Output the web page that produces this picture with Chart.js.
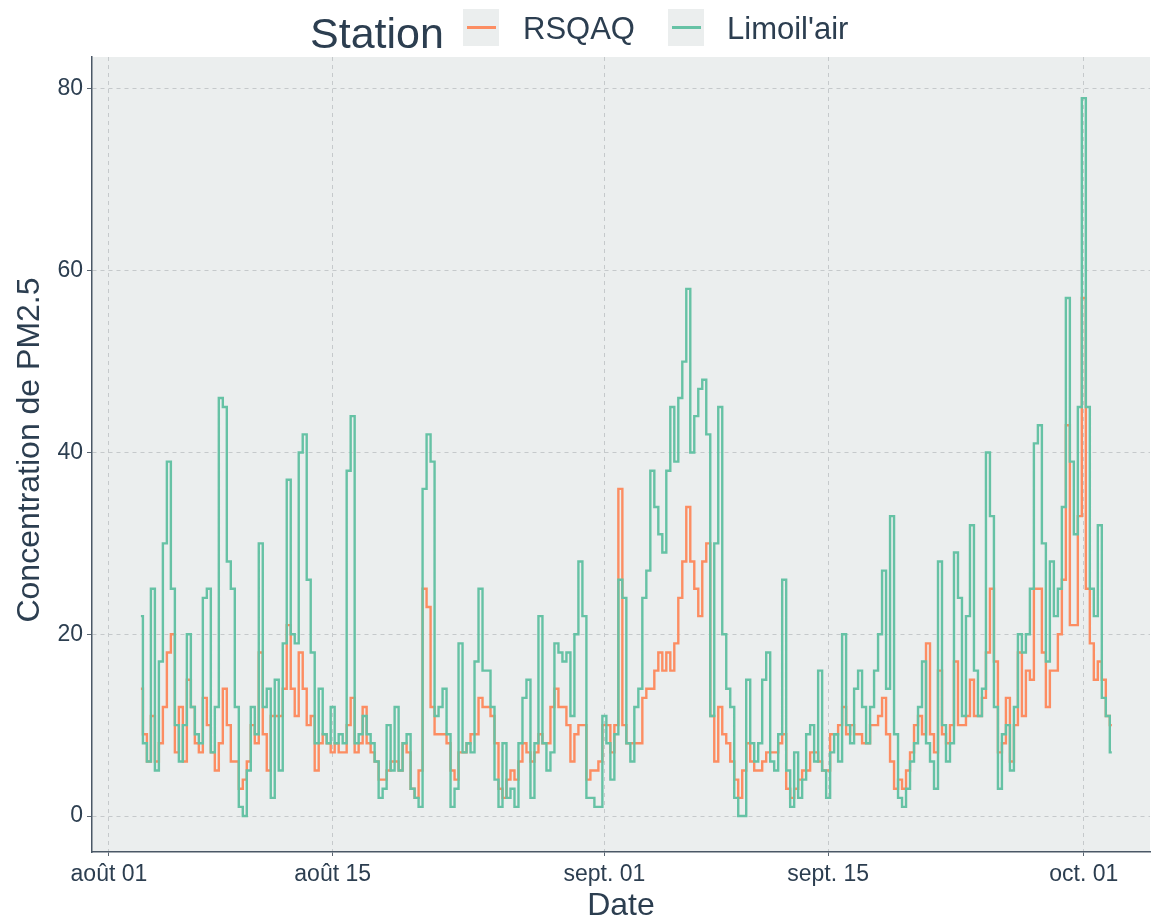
<!DOCTYPE html>
<html>
<head>
<meta charset="utf-8">
<script src="https://cdn.jsdelivr.net/npm/chart.js@4.4.1/dist/chart.umd.min.js"></script>
<style>
html, body { margin: 0; padding: 0; background: #fff; }
</style>
</head>
<body>
<canvas id="myChart" width="1152" height="920"></canvas>
<script>
// days counted from août 01 00h, one reading every 6 h
const startDay = 2;
const stepDays = 0.25;

const stations = ['RSQAQ', "Limoil'air"];

const rsqaq = [
  14, 9, 6, 11,   6, 8, 12, 18,   20, 7, 12, 6,   15, 12, 8, 7,
  13, 10, 7, 5,   8, 14, 10, 6,   6, 3, 4, 6,     10, 8, 18, 9,
  5, 11, 11, 11,  14, 21, 14, 11, 18, 14, 10, 11, 5, 8, 9, 8,
  7, 8, 7, 7,     10, 13, 7, 8,   12, 8, 7, 6,    4, 4, 5, 6,
  6, 5, 8, 7,     3, 2, 5, 25,    23, 12, 9, 9,   9, 8, 5, 4,
  7, 7, 8, 9,     9, 13, 12, 12,  11, 8, 3, 2,    4, 5, 4, 6,
  8, 7, 6, 7,     9, 8, 8, 12,    14, 12, 12, 10, 6, 9, 10, 10,
  4, 5, 5, 6,     10, 10, 7, 10,  36, 10, 8, 8,   8, 8, 13, 14,
  14, 16, 18, 16, 18, 16, 19, 24, 28, 34, 28, 25, 22, 28, 30, 11,
  6, 12, 9, 8,    6, 4, 2, 5,     8, 6, 5, 5,     6, 7, 7, 7,
  8, 9, 3, 2,     3, 4, 5, 5,     7, 7, 6, 5,     5, 9, 9, 10,
  12, 9, 10, 9,   9, 8, 8, 10,    10, 11, 13, 9,  6, 3, 4, 3,
  5, 7, 10, 11,   9, 19, 9, 7,    16, 9, 8, 10,   17, 10, 10, 11,
  15, 11, 11, 13, 18, 25, 17, 7,  8, 13, 6, 10,   18, 11, 16, 15,
  25, 25, 18, 12, 16, 16, 20, 26, 43, 21, 21, 33, 57, 25, 19, 15,
  17, 15, 11, 10
];

const limoilair = [
  22, 8, 6, 25,   5, 17, 30, 39,  25, 10, 6, 10,  20, 12, 9, 8,
  24, 25, 7, 12,  46, 45, 28, 25, 12, 1, 0, 5,    12, 9, 30, 12,
  14, 2, 15, 5,   19, 37, 20, 19, 40, 42, 26, 18, 8, 14, 9, 8,
  12, 8, 9, 8,    38, 44, 8, 9,   11, 9, 8, 6,    2, 3, 10, 5,
  12, 5, 8, 9,    3, 2, 1, 36,    42, 39, 11, 12, 14, 9, 1, 3,
  19, 7, 8, 7,    17, 25, 16, 16, 12, 4, 1, 8,    2, 3, 1, 8,
  13, 15, 2, 8,   22, 8, 5, 7,    19, 18, 17, 18, 11, 20, 28, 22,
  2, 2, 1, 1,     11, 8, 4, 9,    26, 24, 8, 6,   12, 14, 24, 27,
  38, 34, 31, 29, 38, 45, 39, 46, 50, 58, 40, 44, 47, 48, 42, 11,
  30, 45, 20, 14, 12, 2, 0, 0,    15, 8, 6, 8,    15, 18, 6, 5,
  9, 26, 5, 1,    7, 2, 4, 9,     10, 6, 16, 5,   2, 7, 9, 6,
  20, 10, 8, 14,  16, 12, 8, 12,  16, 20, 27, 14, 33, 9, 2, 1,
  3, 6, 8, 12,    17, 8, 6, 3,    28, 10, 6, 8,   29, 24, 11, 22,
  32, 16, 11, 14, 40, 33, 12, 3,  9, 10, 5, 12,   20, 18, 20, 25,
  41, 43, 30, 17, 28, 22, 25, 34, 57, 39, 31, 45, 79, 45, 25, 22,
  32, 13, 11, 7
];

const tickDays = [0, 14, 31, 45, 61];
const tickLabels = ['août 01', 'août 15', 'sept. 01', 'sept. 15', 'oct. 01'];
const yTicks = [0, 20, 40, 60, 80];

const colors = ['#FC8D62', '#66C2A5'];
const panelBg = '#EBEEEE';
const textColor = '#2C3E50';
const font = '"Liberation Sans", Arial, sans-serif';

const toPoints = arr => arr.map((v, i) => ({ x: startDay + i * stepDays, y: v }));

const ggPanel = {
  id: 'ggPanel',
  beforeDraw(chart) {
    const { ctx, chartArea: a } = chart;
    ctx.save();
    ctx.fillStyle = panelBg;
    ctx.fillRect(a.left, a.top, a.right - a.left, a.bottom - a.top);
    ctx.restore();
  },
  afterDraw(chart) {
    const { ctx, chartArea: a } = chart;
    ctx.save();
    ctx.fillStyle = textColor;
    ctx.textAlign = 'left';
    ctx.textBaseline = 'alphabetic';
    ctx.font = '43px ' + font;
    ctx.fillText('Station', 310, 48);

    const keyX = [463, 668];
    const labelX = [523, 727];
    stations.forEach((name, i) => {
      ctx.fillStyle = panelBg;
      ctx.fillRect(keyX[i], 9, 36, 37);
      ctx.strokeStyle = colors[i];
      ctx.lineWidth = 3;
      ctx.beginPath();
      ctx.moveTo(keyX[i] + 4, 27.5);
      ctx.lineTo(keyX[i] + 33, 27.5);
      ctx.stroke();
      ctx.fillStyle = textColor;
      ctx.font = '31px ' + font;
      ctx.fillText(name, labelX[i], 39);
    });

    // axis titles
    ctx.font = '32px ' + font;
    ctx.textAlign = 'center';
    ctx.textBaseline = 'middle';
    ctx.fillText('Date', (a.left + a.right) / 2, 906);
    ctx.translate(30, 450);
    ctx.rotate(-Math.PI / 2);
    ctx.fillText('Concentration de PM2.5', 0, 0);
    ctx.restore();
  }
};

const ctx = document.getElementById('myChart').getContext('2d');
const myChart = new Chart(ctx, {
  type: 'line',
  data: {
    datasets: [
      {
        label: stations[1],
        data: toPoints(limoilair),
        borderColor: colors[1],
        order: 0
      },
      {
        label: stations[0],
        data: toPoints(rsqaq),
        borderColor: colors[0],
        order: 1
      }
    ]
  },
  options: {
    responsive: false,
    animation: false,
    layout: { padding: { top: 57, right: 2, left: 0, bottom: 0 } },
    elements: {
      point: { radius: 0 },
      line: { borderWidth: 2.4, tension: 0, stepped: 'middle' }
    },
    plugins: {
      legend: { display: false },
      tooltip: { enabled: false }
    },
    scales: {
      x: {
        type: 'linear',
        min: -1.06,
        max: 65.14,
        afterBuildTicks: s => { s.ticks = tickDays.map(v => ({ value: v })); },
        afterFit: s => { s.height = 68; },
        ticks: {
          callback: v => tickLabels[tickDays.indexOf(v)],
          color: textColor,
          font: { family: font, size: 23 },
          padding: 5,
          maxRotation: 0,
          autoSkip: false
        },
        grid: { color: '#C5C9CB', lineWidth: 1, tickLength: 4, tickColor: '#5A6570' },
        border: { display: true, color: '#4A5866', width: 1.5, dash: [4, 4] }
      },
      y: {
        min: -3.96,
        max: 83.52,
        afterBuildTicks: s => { s.ticks = yTicks.map(v => ({ value: v })); },
        afterFit: s => { s.width = 92; },
        ticks: {
          color: textColor,
          font: { family: font, size: 23 },
          padding: 4
        },
        grid: { color: '#C5C9CB', lineWidth: 1, tickLength: 5, tickColor: '#5A6570' },
        border: { display: true, color: '#4A5866', width: 1.5, dash: [4, 4] }
      }
    }
  },
  plugins: [ggPanel]
});
</script>
</body>
</html>
